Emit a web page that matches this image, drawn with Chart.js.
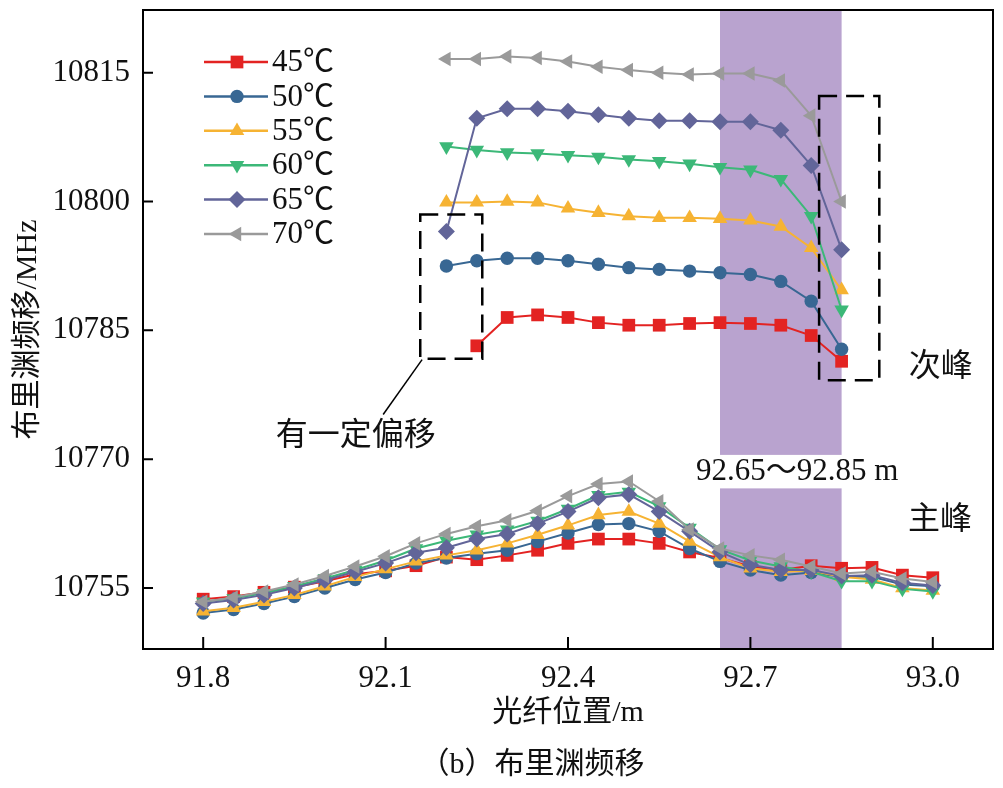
<!DOCTYPE html>
<html><head><meta charset="utf-8">
<script src="https://cdn.jsdelivr.net/npm/chart.js@4.4.1/dist/chart.umd.min.js"></script>
<style>html,body{margin:0;padding:0;background:#fff}#wrap{width:1003px;height:788px;position:relative}</style>
</head><body><div id="wrap"><canvas id="c" width="1003" height="788"></canvas></div>
<script>
// ---------- data ----------
const seriesNames = ['45℃','50℃','55℃','60℃','65℃','70℃'];
const lowerPositions = [91.8,91.85,91.9,91.95,92.0,92.05,92.1,92.15,92.2,92.25,92.3,92.35,92.4,92.45,92.5,92.55,92.6,92.65,92.7,92.75,92.8,92.85,92.9,92.95,93.0];
const upperPositions = [92.2,92.25,92.3,92.35,92.4,92.45,92.5,92.55,92.6,92.65,92.7,92.75,92.8,92.85];

// main peak (主峰)
const lower45 = [10753.7,10754.0,10754.5,10755.1,10755.8,10756.6,10757.0,10757.6,10758.6,10758.3,10758.8,10759.4,10760.2,10760.7,10760.7,10760.2,10759.2,10758.5,10757.5,10757.1,10757.6,10757.3,10757.4,10756.5,10756.2];
const lower50 = [10752.1,10752.5,10753.2,10754.0,10755.0,10756.0,10756.8,10757.9,10758.5,10759.0,10759.4,10760.4,10761.4,10762.4,10762.5,10761.6,10759.6,10758.1,10757.1,10756.5,10756.8,10756.3,10756.3,10755.4,10755.2];
const lower55 = [10752.3,10752.7,10753.4,10754.2,10755.2,10756.3,10757.2,10758.1,10758.8,10759.4,10760.2,10761.2,10762.3,10763.5,10763.9,10762.5,10760.4,10758.6,10757.3,10756.9,10757.0,10756.3,10756.0,10755.0,10754.7];
const lower60 = [10753.4,10753.8,10754.4,10755.2,10756.1,10757.1,10758.2,10759.6,10760.5,10761.2,10761.8,10762.8,10764.2,10765.8,10766.2,10764.5,10762.0,10759.5,10758.2,10757.5,10756.9,10755.8,10755.8,10754.9,10754.6];
const lower65 = [10753.2,10753.6,10754.2,10755.0,10755.9,10756.9,10757.9,10759.1,10759.7,10760.7,10761.3,10762.5,10763.9,10765.5,10765.9,10763.9,10761.6,10759.2,10757.7,10757.1,10757.1,10756.4,10756.5,10755.6,10755.3];
const lower70 = [10753.4,10753.9,10754.6,10755.4,10756.4,10757.5,10758.7,10760.2,10761.3,10762.2,10762.9,10764.0,10765.7,10767.1,10767.4,10765.1,10761.8,10759.6,10758.8,10758.3,10757.5,10756.7,10756.9,10756.1,10755.7];

// secondary peak (次峰)
const upper45 = [null,10783.2,10786.5,10786.8,10786.5,10785.9,10785.6,10785.6,10785.8,10785.9,10785.8,10785.6,10784.4,10781.4];
const upper50 = [10792.5,10793.1,10793.4,10793.4,10793.1,10792.7,10792.3,10792.1,10791.9,10791.7,10791.5,10790.7,10788.4,10782.8];
const upper55 = [10799.9,10799.9,10800.0,10799.9,10799.2,10798.7,10798.3,10798.1,10798.1,10798.0,10797.8,10797.1,10794.6,10789.7];
const upper60 = [10806.4,10806.0,10805.7,10805.6,10805.4,10805.2,10804.9,10804.7,10804.4,10804.0,10803.7,10802.6,10798.3,10787.4];
const upper65 = [10796.5,10809.7,10810.8,10810.8,10810.5,10810.1,10809.7,10809.4,10809.4,10809.3,10809.3,10808.3,10804.2,10794.4];
const upper70 = [10816.6,10816.6,10816.9,10816.7,10816.3,10815.7,10815.3,10815.0,10814.8,10814.9,10814.9,10814.1,10810.0,10800.0];

const yTickValues = [10755,10770,10785,10800,10815];
const xTickValues = [91.8,92.1,92.4,92.7,93.0];
const bandRange = [92.65, 92.85];
const bandGap = [10766.6, 10770.5];
const bandLabel = '92.65～92.85 m';

// ---------- styles ----------
const colors = ['#e32322','#386793','#f6b333','#3cb878','#626599','#9a9a9a'];
const markers = [
  {pointStyle:'rect', radius:9, rotation:0},
  {pointStyle:'circle', radius:6.7, rotation:0},
  {pointStyle:'triangle', radius:8.4, rotation:0},
  {pointStyle:'triangle', radius:8.4, rotation:180},
  {pointStyle:'rectRot', radius:8.5, rotation:0},
  {pointStyle:'triangle', radius:8.4, rotation:-90}
];
const lowers = [lower45,lower50,lower55,lower60,lower65,lower70];
const uppers = [upper45,upper50,upper55,upper60,upper65,upper70];
const SERIF = "'Liberation Serif','Times New Roman','Noto Sans CJK SC',serif";

const datasets = [];
seriesNames.forEach((name,i)=>{
  const common = {
    borderColor: colors[i], backgroundColor: colors[i],
    pointBackgroundColor: colors[i], pointBorderColor: colors[i],
    borderWidth: 2, pointBorderWidth: 0,
    pointStyle: markers[i].pointStyle, pointRadius: markers[i].radius,
    pointRotation: markers[i].rotation, pointHoverRadius: markers[i].radius,
    tension: 0, order: 6 - i, spanGaps: false
  };
  datasets.push(Object.assign({label: name, data: lowerPositions.map((x,k)=>({x, y: lowers[i][k]}))}, common));
  datasets.push(Object.assign({label: name + ' ', data: upperPositions.map((x,k)=>({x, y: uppers[i][k]}))}, common));
});

const decor = {
  id: 'decor',
  beforeDatasetsDraw(chart){
    const {ctx, chartArea:a, scales:{x,y}} = chart;
    const x0 = x.getPixelForValue(bandRange[0]), x1 = x.getPixelForValue(bandRange[1]);
    const gTop = y.getPixelForValue(bandGap[1]), gBot = y.getPixelForValue(bandGap[0]);
    ctx.save();
    ctx.fillStyle = '#b9a3cf';
    ctx.fillRect(x0, a.top, x1-x0, gTop - a.top);
    ctx.fillRect(x0, gBot, x1-x0, a.bottom - gBot);
    ctx.restore();
  },
  afterDraw(chart){
    const {ctx, chartArea:a, scales:{x,y}} = chart;
    ctx.save();
    // frame
    ctx.strokeStyle = '#000'; ctx.lineWidth = 2;
    ctx.strokeRect(a.left, a.top, a.right - a.left, a.bottom - a.top);
    // inward ticks
    ctx.beginPath();
    xTickValues.forEach(v=>{ const px = x.getPixelForValue(v); ctx.moveTo(px, a.bottom); ctx.lineTo(px, a.bottom - 12); });
    yTickValues.forEach(v=>{ const py = y.getPixelForValue(v); ctx.moveTo(a.left, py); ctx.lineTo(a.left + 10, py); });
    ctx.stroke();
    // dashed boxes
    ctx.setLineDash([18, 9]); ctx.lineWidth = 2.5;
    const box = (x0,x1,y0,y1)=>{
      const px0 = x.getPixelForValue(x0), px1 = x.getPixelForValue(x1);
      const py0 = y.getPixelForValue(y1), py1 = y.getPixelForValue(y0);
      ctx.strokeRect(px0, py0, px1-px0, py1-py0);
    };
    box(92.157, 92.259, 10781.7, 10798.5);
    box(92.813, 92.912, 10779.2, 10812.3);
    ctx.setLineDash([]); ctx.lineWidth = 1.5;
    ctx.beginPath();
    ctx.moveTo(x.getPixelForValue(92.160), y.getPixelForValue(10781.6));
    ctx.lineTo(x.getPixelForValue(92.096), y.getPixelForValue(10775.2));
    ctx.stroke();
    // texts
    ctx.fillStyle = '#111'; ctx.textAlign = 'center'; ctx.textBaseline = 'middle';
    ctx.font = "32px " + SERIF;
    ctx.fillText('有一定偏移', x.getPixelForValue(92.051), y.getPixelForValue(10772.6));
    ctx.fillText('次峰', x.getPixelForValue(93.013), y.getPixelForValue(10780.7));
    ctx.fillText('主峰', x.getPixelForValue(93.012), y.getPixelForValue(10762.9));
    ctx.font = "31px " + SERIF;
    ctx.fillText(bandLabel, x.getPixelForValue(92.777), y.getPixelForValue(10768.5));
    ctx.font = "30px " + SERIF;
    ctx.fillText('（b）布里渊频移', 532, 765);
    // legend
    ctx.textAlign = 'left';
    seriesNames.forEach((name,i)=>{
      const ly = 62 + 34.4*i;
      ctx.strokeStyle = colors[i]; ctx.lineWidth = 2.5;
      ctx.beginPath(); ctx.moveTo(204, ly); ctx.lineTo(268, ly); ctx.stroke();
      ctx.fillStyle = colors[i];
      Chart.helpers.drawPoint(ctx, {pointStyle: markers[i].pointStyle, radius: markers[i].radius, rotation: markers[i].rotation, borderWidth: 0}, 237, ly);
      ctx.fillStyle = '#111'; ctx.font = "31px " + SERIF;
      ctx.fillText(name, 272, ly + 1);
    });
    ctx.restore();
  }
};

new Chart(document.getElementById('c'), {
  type: 'line',
  data: { datasets },
  options: {
    responsive: false, animation: false, devicePixelRatio: 1,
    layout: { padding: { top: 10, right: 10, bottom: 0, left: 0 } },
    plugins: { legend: { display: false }, tooltip: { enabled: false } },
    scales: {
      x: {
        type: 'linear', min: 91.701, max: 93.099,
        grid: { display: false, drawTicks: false }, border: { display: false },
        afterBuildTicks: s => { s.ticks = xTickValues.map(v=>({value:v})); },
        afterFit: s => { s.height = 139; s.paddingLeft = 0; s.paddingRight = 0; },
        ticks: { color: '#111', font: { family: SERIF, size: 31 }, padding: 11, maxRotation: 0,
                 callback: v => v.toFixed(1) },
        title: { display: true, text: '光纤位置/m', color: '#111', font: { family: SERIF, size: 30 }, padding: { top: 0, bottom: 57 } }
      },
      y: {
        type: 'linear', min: 10747.9, max: 10822.3,
        grid: { display: false, drawTicks: false }, border: { display: false },
        afterBuildTicks: s => { s.ticks = yTickValues.map(v=>({value:v})); },
        afterFit: s => { s.width = 143; s.paddingTop = 0; s.paddingBottom = 0; },
        ticks: { color: '#111', font: { family: SERIF, size: 31 }, padding: 13, callback: v => String(v) },
        title: { display: true, text: '布里渊频移/MHz', color: '#111', font: { family: SERIF, size: 30 }, padding: { top: 10, bottom: 0 } }
      }
    }
  },
  plugins: [decor]
});
</script></body></html>
